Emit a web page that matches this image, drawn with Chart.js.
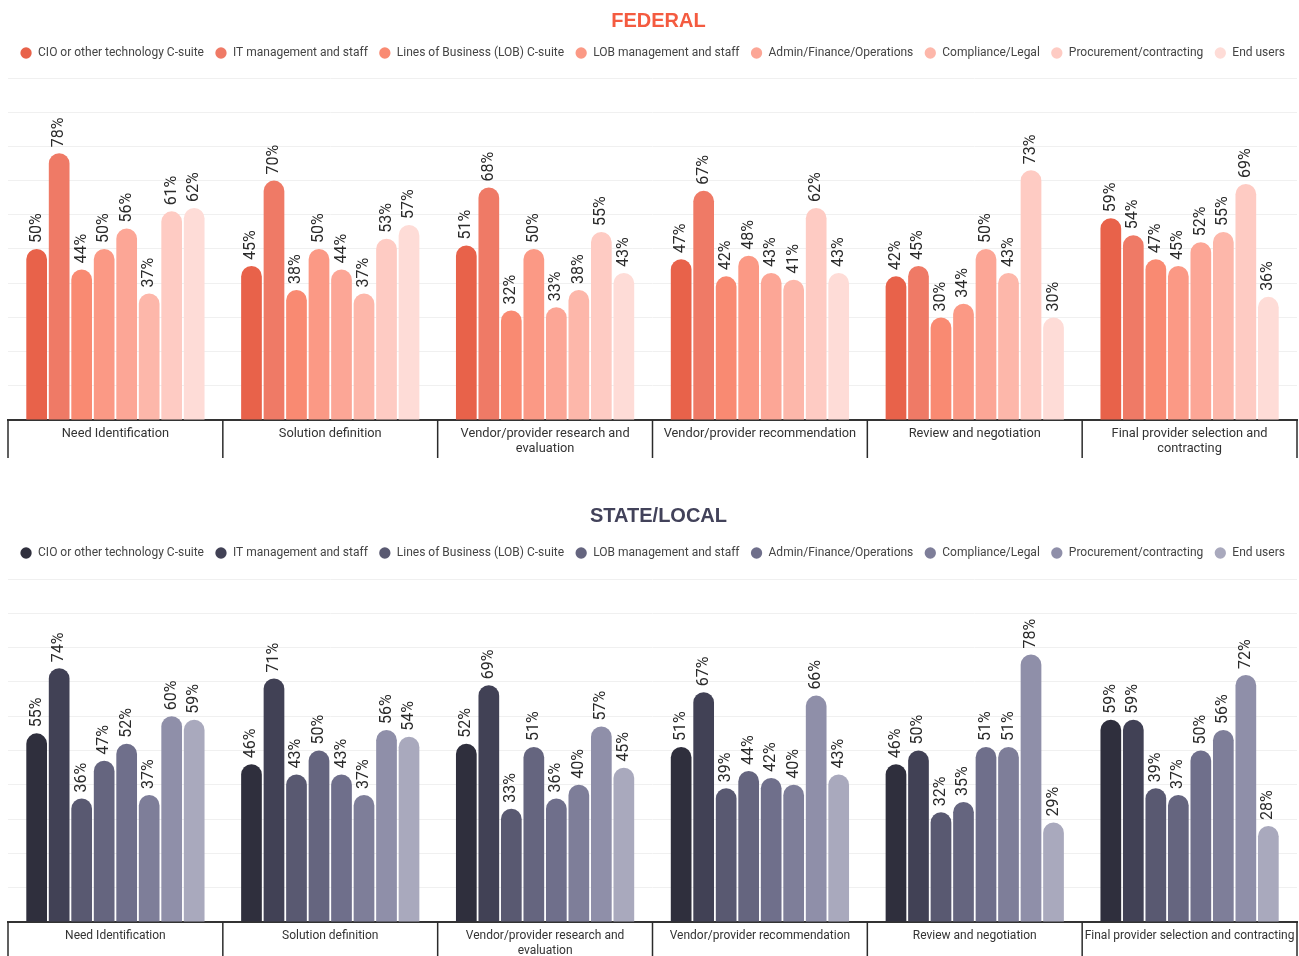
<!DOCTYPE html>
<html>
<head>
<meta charset="utf-8">
<script src="https://cdn.jsdelivr.net/npm/chart.js@4/dist/chart.umd.min.js"></script>
<style>
  html, body { margin: 0; padding: 0; background: #ffffff; overflow: hidden; }
  .panel { position: absolute; left: 0; width: 1299px; height: 470px; }
  #fedPanel { top: 0; }
  #slPanel { top: 495px; }
  .heading {
    position: absolute; left: 0; width: 1317px; height: 24px;
    text-align: center; line-height: 24px;
    font-family: 'Liberation Sans', Arial, sans-serif; font-weight: bold; font-size: 20px;
    z-index: 2;
  }
  #fedTitle { top: 8px; color: #f45b40; }
  #slTitle { top: 503px; color: #42425a; }
</style>
</head>
<body>
<div class="heading" id="fedTitle">FEDERAL</div>
<div class="heading" id="slTitle">STATE/LOCAL</div>
<div class="panel" id="fedPanel"><canvas id="fedChart"></canvas></div>
<div class="panel" id="slPanel"><canvas id="slChart"></canvas></div>
<script>
// Buying-process stages (x-axis categories)
const stagesFederal = [
  'Need Identification',
  'Solution definition',
  ['Vendor/provider research and', 'evaluation'],
  'Vendor/provider recommendation',
  'Review and negotiation',
  ['Final provider selection and', 'contracting']
];
const stagesState = [
  'Need Identification',
  'Solution definition',
  ['Vendor/provider research and', 'evaluation'],
  'Vendor/provider recommendation',
  'Review and negotiation',
  'Final provider selection and contracting'
];

// Roles involved (series names)
const roles = [
  'CIO or other technology C-suite',
  'IT management and staff',
  'Lines of Business (LOB) C-suite',
  'LOB management and staff',
  'Admin/Finance/Operations',
  'Compliance/Legal',
  'Procurement/contracting',
  'End users'
];

// Federal: percent involved per stage
const fedCio         = [50, 45, 51, 47, 42, 59];
const fedItStaff     = [78, 70, 68, 67, 45, 54];
const fedLobCsuite   = [44, 38, 32, 42, 30, 47];
const fedLobStaff    = [50, 50, 50, 48, 34, 45];
const fedAdmin       = [56, 44, 33, 43, 50, 52];
const fedCompliance  = [37, 37, 38, 41, 43, 55];
const fedProcurement = [61, 53, 55, 62, 73, 69];
const fedEndUsers    = [62, 57, 43, 43, 30, 36];

// State/local: percent involved per stage
const slCio         = [55, 46, 52, 51, 46, 59];
const slItStaff     = [74, 71, 69, 67, 50, 59];
const slLobCsuite   = [36, 43, 33, 39, 32, 39];
const slLobStaff    = [47, 50, 51, 44, 35, 37];
const slAdmin       = [52, 43, 36, 42, 51, 50];
const slCompliance  = [37, 37, 40, 40, 51, 56];
const slProcurement = [60, 56, 57, 66, 78, 72];
const slEndUsers    = [59, 54, 45, 43, 29, 28];

const fedColors = ['#e8624a', '#ef7a66', '#f98a72', '#fb9985', '#fca696', '#fdb7aa', '#fecbc3', '#fedcd7'];
const slColors  = ['#2f2f3d', '#414155', '#595971', '#65657f', '#6f6f8b', '#7e7e99', '#8f8fa9', '#a9a9bd'];

const CLEAR = 'rgba(0,0,0,0)';

Chart.defaults.font.family = 'Roboto';
Chart.defaults.animation = false;

// Rotated percentage labels above each bar
const valueLabels = {
  id: 'valueLabels',
  afterDatasetsDraw(chart) {
    const ctx = chart.ctx;
    ctx.save();
    ctx.font = '16px Roboto';
    ctx.fillStyle = '#2a2a2a';
    ctx.textAlign = 'left';
    ctx.textBaseline = 'middle';
    chart.data.datasets.forEach((ds, i) => {
      const meta = chart.getDatasetMeta(i);
      meta.data.forEach((bar, j) => {
        ctx.save();
        ctx.translate(bar.x, bar.y - 6);
        ctx.rotate(-Math.PI / 2);
        ctx.fillText(ds.data[j] + '%', 0, 0);
        ctx.restore();
      });
    });
    ctx.restore();
  }
};

// Vertical dividers between stages, hanging below the x axis
const stageDividers = {
  id: 'stageDividers',
  afterDraw(chart, args, opts) {
    const xs = chart.scales.x;
    const ctx = chart.ctx;
    const n = chart.data.labels.length;
    ctx.save();
    ctx.strokeStyle = '#2b2b2b';
    ctx.lineWidth = 1.5;
    for (let k = 0; k <= n; k++) {
      const px = xs.getPixelForValue(k - 0.5);
      ctx.beginPath();
      ctx.moveTo(px, xs.top);
      ctx.lineTo(px, xs.top + (opts.length || 38));
      ctx.stroke();
    }
    ctx.restore();
  }
};

function buildDatasets(series, colors) {
  return series.map((values, i) => ({
    label: roles[i],
    data: values,
    backgroundColor: colors[i],
    borderWidth: 0,
    borderRadius: 11,
    borderSkipped: 'start',
    barPercentage: 0.92,
    categoryPercentage: 0.838
  }));
}

function makeChart(canvasId, cfg) {
  return new Chart(document.getElementById(canvasId), {
    type: 'bar',
    data: {
      labels: cfg.labels,
      datasets: buildDatasets(cfg.series, cfg.colors)
    },
    options: {
      responsive: true,
      maintainAspectRatio: false,
      layout: { padding: { left: 6, right: 0, top: cfg.padTop, bottom: cfg.padBottom } },
      plugins: {
        title: { display: false },
        legend: {
          display: true,
          position: 'top',
          labels: {
            usePointStyle: true,
            pointStyle: 'circle',
            boxWidth: 14.5,
            boxHeight: 8,
            padding: 11,
            color: '#444',
            font: { family: 'Roboto', size: 12 }
          }
        },
        tooltip: { enabled: false },
        stageDividers: { length: cfg.dividerLength }
      },
      scales: {
        x: {
          offset: true,
          grid: {
            display: true,
            offset: true,
            drawOnChartArea: false,
            drawTicks: true,
            tickLength: cfg.labelDrop,
            color: CLEAR,
            tickColor: CLEAR
          },
          border: { display: true, color: '#333', width: 2 },
          ticks: {
            autoSkip: false,
            maxRotation: 0,
            minRotation: 0,
            padding: 0,
            color: '#333',
            font: { family: 'Roboto', size: cfg.tickFont }
          }
        },
        // empty top axis: keeps a gap between the legend and the plot
        xGap: {
          type: 'category',
          axis: 'x',
          position: 'top',
          ticks: { display: false },
          grid: { drawOnChartArea: false, drawTicks: true, tickLength: cfg.gap, tickColor: CLEAR },
          border: { display: false }
        },
        y: {
          min: 0,
          max: 100,
          ticks: { display: false, stepSize: 10 },
          grid: { color: '#f0f0f0', lineWidth: 1, drawTicks: true, tickLength: 2, tickColor: CLEAR },
          border: { display: false }
        },
        yRight: {
          axis: 'y',
          type: 'linear',
          position: 'right',
          min: 0,
          max: 100,
          ticks: { display: false },
          grid: { drawOnChartArea: false, drawTicks: true, tickLength: 2, tickColor: CLEAR },
          border: { display: false }
        }
      }
    },
    plugins: [valueLabels, stageDividers]
  });
}

makeChart('fedChart', {
  labels: stagesFederal,
  series: [fedCio, fedItStaff, fedLobCsuite, fedLobStaff, fedAdmin, fedCompliance, fedProcurement, fedEndUsers],
  colors: fedColors,
  padTop: 36,
  gap: 9,
  labelDrop: 6,
  tickFont: 12.8,
  dividerLength: 38,
  padBottom: 13.3
});

makeChart('slChart', {
  labels: stagesState,
  series: [slCio, slItStaff, slLobCsuite, slLobStaff, slAdmin, slCompliance, slProcurement, slEndUsers],
  colors: slColors,
  padTop: 41,
  gap: 10,
  labelDrop: 7,
  tickFont: 12,
  dividerLength: 40,
  padBottom: 7.2
});
</script>
</body>
</html>
